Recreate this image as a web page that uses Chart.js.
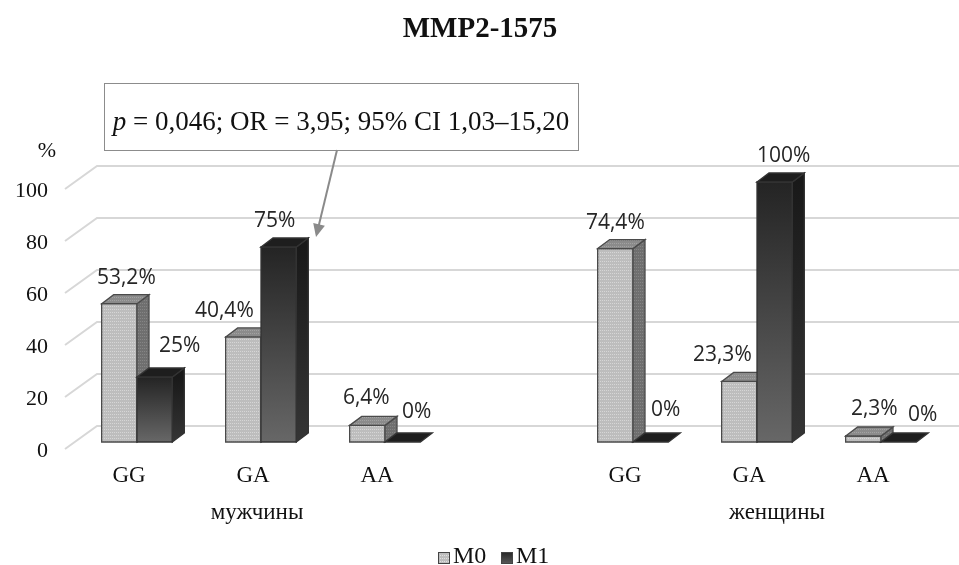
<!DOCTYPE html>
<html>
<head>
<meta charset="utf-8">
<title>MMP2-1575</title>
<script src="https://cdn.jsdelivr.net/npm/chart.js@4.4.1/dist/chart.umd.min.js"></script>
<style>
  html, body { margin: 0; padding: 0; background: #ffffff; }
  #wrap { width: 959px; height: 565px; position: relative; }
</style>
</head>
<body>
<div id="wrap"><canvas id="chart" width="959" height="565"></canvas></div>
<script>
// ---- data ----
const chartTitle = 'MMP2-1575';
const categories = ['GG', 'GA', 'AA', '', 'GG', 'GA', 'AA'];
const groupNames = ['мужчины', 'женщины'];
const seriesNames = ['M0', 'M1'];
const m0Values = [53.2, 40.4, 6.4, null, 74.4, 23.3, 2.3];
const m1Values = [25, 75, 0, null, 0, 100, 0];
const yTicks = [0, 20, 40, 60, 80, 100];
const yUnit = '%';
const noteItalic = 'p';
const noteRest = ' = 0,046; OR = 3,95; 95% CI 1,03–15,20';

// ---- label placement (px nudges from the bar's front top) ----
const m0LabelDx = [7, -19, -1, 0, 0, -17, 11];
const m0LabelDy = [-26, -26, -27, 0, -26, -26, -27];
const m1LabelDx = [25, -4, 14, 0, 15, 9, 24];
const m1LabelDy = [-31, -26, -30, 0, -32, -26, -27];

// ---- style ----
const SERIF = '"Liberation Serif", "Times New Roman", serif';
const SANS = '"Open Sans", "DejaVu Sans", sans-serif';
const DX = 12, DY = -9;          // depth offset of the 3D boxes
const W = 959;

const fmtPct = v => String(v).replace('.', ',') + '%';

function dotPattern(ctx, base, dot) {
  const c = document.createElement('canvas');
  c.width = 4; c.height = 3;
  const g = c.getContext('2d');
  g.fillStyle = base; g.fillRect(0, 0, 4, 3);
  g.fillStyle = dot; g.fillRect(0, 0, 1, 1); g.fillRect(2, 0, 1, 1);
  return ctx.createPattern(c, 'repeat');
}

function poly(ctx, pts, fill, stroke) {
  ctx.beginPath();
  ctx.moveTo(pts[0][0], pts[0][1]);
  for (let k = 1; k < pts.length; k++) ctx.lineTo(pts[k][0], pts[k][1]);
  ctx.closePath();
  ctx.fillStyle = fill; ctx.fill();
  ctx.strokeStyle = stroke; ctx.lineWidth = 1.3; ctx.stroke();
}

// back-wall gridlines with the diagonal floor run-in
const wallGrid = {
  id: 'wallGrid',
  beforeDatasetsDraw(chart) {
    const { ctx, chartArea, scales } = chart;
    ctx.save();
    ctx.strokeStyle = '#d7d7d7';
    ctx.lineWidth = 2;
    yTicks.forEach(t => {
      const yf = scales.y.getPixelForValue(t);
      ctx.beginPath();
      ctx.moveTo(chartArea.left - 10, yf + 7);
      ctx.lineTo(chartArea.left + 22, yf - 16);
      ctx.lineTo(W, yf - 16);
      ctx.stroke();
    });
    ctx.restore();
  }
};

// 3D boxes built on the bar elements
const boxes = {
  id: 'boxes',
  afterDatasetsDraw(chart) {
    const ctx = chart.ctx;
    const pat = {
      front: dotPattern(ctx, '#bdbdbd', '#d6d6d6'),
      side: dotPattern(ctx, '#6f6f6f', '#858585'),
      top: dotPattern(ctx, '#8b8b8b', '#a2a2a2')
    };
    ctx.save();
    for (let i = 0; i < categories.length; i++) {
      for (let d = 0; d < 2; d++) {
        const vals = d === 0 ? m0Values : m1Values;
        if (vals[i] === null) continue;
        const el = chart.getDatasetMeta(d).data[i];
        const { x, y, base, width } = el.getProps(['x', 'y', 'base', 'width'], true);
        const l = x - width / 2, r = x + width / 2;
        const top = Math.min(y, base), bot = Math.max(y, base);
        const edge = d === 0 ? '#4a4a4a' : '#333333';
        let frontFill, sideFill, topFill;
        if (d === 0) {
          frontFill = pat.front; sideFill = pat.side; topFill = pat.top;
        } else {
          const gf = ctx.createLinearGradient(0, top, 0, bot);
          gf.addColorStop(0, '#242424'); gf.addColorStop(1, '#676767');
          const gs = ctx.createLinearGradient(0, top, 0, bot);
          gs.addColorStop(0, '#191919'); gs.addColorStop(1, '#353535');
          frontFill = gf; sideFill = gs; topFill = '#1e1e1e';
        }
        if (bot - top > 0.5) {
          poly(ctx, [[l, top], [r, top], [r, bot], [l, bot]], frontFill, edge);
          poly(ctx, [[r, top], [r + DX, top + DY], [r + DX, bot + DY], [r, bot]], sideFill, edge);
        }
        poly(ctx, [[l, top], [l + DX, top + DY], [r + DX, top + DY], [r, top]], topFill, edge);
      }
    }
    // value labels
    ctx.font = '21px ' + SANS;
    ctx.fillStyle = '#262626';
    ctx.textAlign = 'center';
    ctx.textBaseline = 'middle';
    for (let i = 0; i < categories.length; i++) {
      [[m0Values, m0LabelDx, m0LabelDy], [m1Values, m1LabelDx, m1LabelDy]].forEach((s, d) => {
        const v = s[0][i];
        if (v === null) return;
        const el = chart.getDatasetMeta(d).data[i];
        const { x, y } = el.getProps(['x', 'y'], true);
        ctx.fillText(fmtPct(v), x + s[1][i], y + s[2][i]);
      });
    }
    ctx.restore();
  }
};

// title, unit, group names, legend and the statistics note
const decor = {
  id: 'decor',
  afterDraw(chart) {
    const { ctx, scales, chartArea } = chart;
    ctx.save();
    ctx.fillStyle = '#111111';
    ctx.textAlign = 'center';
    ctx.textBaseline = 'alphabetic';

    ctx.font = 'bold 29px ' + SERIF;
    ctx.fillText(chartTitle, 480, 37);

    ctx.font = '22px ' + SERIF;
    ctx.fillText(yUnit, chartArea.left - 28, 157);

    ctx.font = '23px ' + SERIF;
    const px = i => scales.x.getPixelForValue(i);
    ctx.fillText(groupNames[0], (px(0) + px(2)) / 2 - 4, 519);
    ctx.fillText(groupNames[1], (px(4) + px(6)) / 2 + 20, 519);

    // legend
    const pat = dotPattern(ctx, '#bdbdbd', '#e0e0e0');
    const lg = ctx.createLinearGradient(0, 552, 0, 564);
    lg.addColorStop(0, '#262626'); lg.addColorStop(1, '#5a5a5a');
    const legendItems = [[438, pat], [501, lg]];
    ctx.font = '24px ' + SERIF;
    ctx.textAlign = 'left';
    legendItems.forEach(([lx, fill], k) => {
      ctx.fillStyle = fill;
      ctx.fillRect(lx, 552, 12, 12);
      ctx.strokeStyle = '#444444'; ctx.lineWidth = 1;
      ctx.strokeRect(lx + 0.5, 552.5, 11, 11);
      ctx.fillStyle = '#111111';
      ctx.fillText(seriesNames[k], lx + 15, 563);
    });

    // statistics note with pointer
    const bx = 104, by = 83, bw = 474, bh = 67;
    ctx.fillStyle = '#ffffff';
    ctx.fillRect(bx, by, bw, bh);
    ctx.strokeStyle = '#8c8c8c'; ctx.lineWidth = 1;
    ctx.strokeRect(bx + 0.5, by + 0.5, bw, bh);
    ctx.font = 'italic 27px ' + SERIF;
    const wi = ctx.measureText(noteItalic).width;
    ctx.font = '27px ' + SERIF;
    const wr = ctx.measureText(noteRest).width;
    const tx = bx + bw / 2 - (wi + wr) / 2;
    ctx.fillStyle = '#111111';
    ctx.font = 'italic 27px ' + SERIF;
    ctx.fillText(noteItalic, tx, 130);
    ctx.font = '27px ' + SERIF;
    ctx.fillText(noteRest, tx + wi, 130);

    const ax0 = 337, ay0 = 150, ax1 = 316, ay1 = 237;
    const ang = Math.atan2(ay1 - ay0, ax1 - ax0);
    ctx.strokeStyle = '#8a8a8a'; ctx.fillStyle = '#8a8a8a'; ctx.lineWidth = 2;
    ctx.beginPath();
    ctx.moveTo(ax0, ay0);
    ctx.lineTo(ax1 - 10 * Math.cos(ang), ay1 - 10 * Math.sin(ang));
    ctx.stroke();
    ctx.beginPath();
    ctx.moveTo(ax1, ay1);
    ctx.lineTo(ax1 - 13 * Math.cos(ang) + 6 * Math.sin(ang), ay1 - 13 * Math.sin(ang) - 6 * Math.cos(ang));
    ctx.lineTo(ax1 - 13 * Math.cos(ang) - 6 * Math.sin(ang), ay1 - 13 * Math.sin(ang) + 6 * Math.cos(ang));
    ctx.closePath();
    ctx.fill();
    ctx.restore();
  }
};

new Chart(document.getElementById('chart'), {
  type: 'bar',
  data: {
    labels: categories,
    datasets: [
      { label: seriesNames[0], data: m0Values, backgroundColor: 'rgba(0,0,0,0)', borderWidth: 0 },
      { label: seriesNames[1], data: m1Values, backgroundColor: 'rgba(0,0,0,0)', borderWidth: 0 }
    ]
  },
  options: {
    responsive: false,
    animation: false,
    layout: { padding: { top: 182, right: 16, left: 0, bottom: 0 } },
    datasets: { bar: { categoryPercentage: 0.57, barPercentage: 1.0 } },
    plugins: { legend: { display: false }, tooltip: { enabled: false }, title: { display: false } },
    scales: {
      x: {
        grid: { display: false, drawTicks: false },
        border: { display: false },
        ticks: {
          font: { family: SERIF, size: 23 },
          color: '#111111',
          padding: 20,
          labelOffset: -8,
          maxRotation: 0,
          autoSkip: false
        },
        afterFit(scale) { scale.height = 123; }
      },
      y: {
        min: 0, max: 100,
        grid: { display: false, drawTicks: false },
        border: { display: false },
        ticks: {
          stepSize: 20,
          font: { family: SERIF, size: 22 },
          color: '#111111',
          padding: 27,
          labelOffset: 9
        },
        afterFit(scale) { scale.width = 75; }
      }
    }
  },
  plugins: [wallGrid, boxes, decor]
});
</script>
</body>
</html>
